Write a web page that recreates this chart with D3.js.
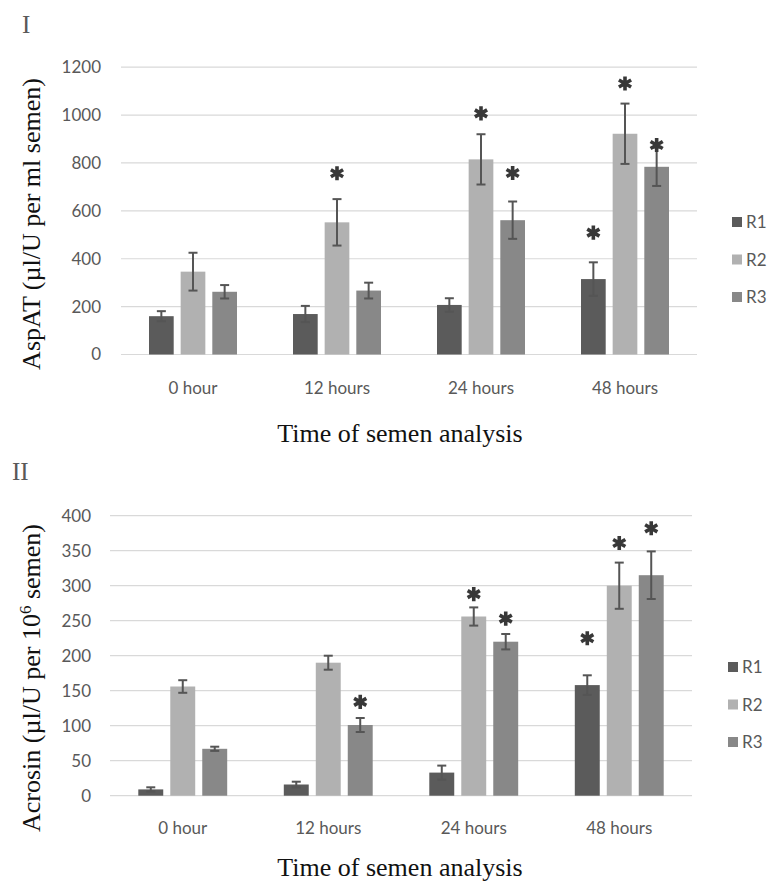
<!DOCTYPE html>
<html>
<head>
<meta charset="utf-8">
<script src="https://cdn.jsdelivr.net/npm/d3@7"></script>
<style>
  body { margin: 0; background: #fff; }
  svg { display: block; }
  .tick text { font-family: Lato, "Open Sans", sans-serif; fill: #595959; }
</style>
</head>
<body>
<div id="chart"></div>
<script>
// data
const times = ["0 hour", "12 hours", "24 hours", "48 hours"];
const groups = ["R1", "R2", "R3"];

// I: AspAT
const aspR1 = [160, 169, 207, 315];
const aspR2 = [346, 552, 815, 922];
const aspR3 = [262, 267, 561, 784];
const aspR1Err = [21, 34, 28, 70];
const aspR2Err = [79, 97, 105, 126];
const aspR3Err = [28, 33, 78, 80];
// height of the significance star (same units as the bars), null = no star
const aspR1Star = [null, null, null, 509];
const aspR2Star = [null, 757, 1007, 1132];
const aspR3Star = [null, null, 758, 875];
const aspTicks = [0, 200, 400, 600, 800, 1000, 1200];

// II: Acrosin
const acrR1 = [9, 16, 33, 158];
const acrR2 = [156, 190, 256, 300];
const acrR3 = [67, 101, 220, 315];
const acrR1Err = [3, 4, 10, 14];
const acrR2Err = [9, 10, 13, 33];
const acrR3Err = [3, 10, 11, 34];
const acrR1Star = [null, null, null, 225];
const acrR2Star = [null, null, 288, 361];
const acrR3Star = [null, 134, 253, 382];
const acrTicks = [0, 50, 100, 150, 200, 250, 300, 350, 400];

const WIDTH = 771;
const HEIGHT = 884;
const COLORS = {R1: "#5b5b5b", R2: "#b1b1b1", R3: "#888888"};

const svg = d3.select("#chart").append("svg")
  .attr("width", WIDTH)
  .attr("height", HEIGHT);

svg.append("rect").attr("width", WIDTH).attr("height", HEIGHT).attr("fill", "#fff");

function drawPanel(cfg) {
  const g = svg.append("g");

  const y = d3.scaleLinear()
    .domain([0, d3.max(cfg.ticks)])
    .range([cfg.bottom, cfg.top]);

  const x0 = d3.scaleBand()
    .domain(times)
    .range([cfg.left, cfg.right]);

  const x1 = d3.scaleBand()
    .domain(groups)
    .range([0, x0.bandwidth()])
    .paddingInner(0.22)
    .paddingOuter(0.885);

  // gridlines
  g.selectAll(".grid")
    .data(cfg.ticks)
    .enter()
    .append("line")
      .attr("x1", cfg.left)
      .attr("x2", cfg.right)
      .attr("y1", d => y(d))
      .attr("y2", d => y(d))
      .attr("stroke", "#d9d9d9")
      .attr("stroke-width", 1.2);

  // y tick labels
  const yAxis = g.append("g")
    .attr("transform", "translate(" + cfg.left + ",0)")
    .call(d3.axisLeft(y).tickValues(cfg.ticks).tickFormat(d3.format("d"))
      .tickSize(0).tickPadding(cfg.labelPad));
  yAxis.select(".domain").remove();
  yAxis.selectAll("text").attr("font-size", "17px");

  // x tick labels
  const xAxis = g.append("g")
    .attr("transform", "translate(0," + cfg.bottom + ")")
    .call(d3.axisBottom(x0).tickSize(0).tickPadding(cfg.xPad));
  xAxis.select(".domain").remove();
  xAxis.selectAll("text").attr("font-size", "17px");

  // bars, error bars, stars
  const rows = [];
  groups.forEach((s, si) => {
    times.forEach((t, ti) => {
      rows.push({
        group: s, time: t,
        value: cfg.values[si][ti],
        err: cfg.errors[si][ti],
        star: cfg.stars[si][ti]
      });
    });
  });

  const cell = g.selectAll(".cell")
    .data(rows)
    .enter()
    .append("g")
      .attr("transform", d => "translate(" + (x0(d.time) + x1(d.group)) + ",0)");

  cell.append("rect")
    .attr("x", 0)
    .attr("width", x1.bandwidth())
    .attr("y", d => y(d.value))
    .attr("height", d => y(0) - y(d.value))
    .attr("fill", d => COLORS[d.group]);

  const mid = x1.bandwidth() / 2;
  const cap = 4.5;
  const errColor = "#555555";

  cell.append("line")
    .attr("x1", mid).attr("x2", mid)
    .attr("y1", d => y(d.value + d.err))
    .attr("y2", d => y(d.value - d.err))
    .attr("stroke", errColor).attr("stroke-width", 2);
  cell.append("line")
    .attr("x1", mid - cap).attr("x2", mid + cap)
    .attr("y1", d => y(d.value + d.err))
    .attr("y2", d => y(d.value + d.err))
    .attr("stroke", errColor).attr("stroke-width", 2);
  cell.append("line")
    .attr("x1", mid - cap).attr("x2", mid + cap)
    .attr("y1", d => y(d.value - d.err))
    .attr("y2", d => y(d.value - d.err))
    .attr("stroke", errColor).attr("stroke-width", 2);

  cell.filter(d => d.star != null)
    .append("path")
      .attr("transform", d => "translate(" + mid + "," + y(d.star) + ")")
      .attr("d", d3.symbol(d3.symbolAsterisk, 140))
      .attr("fill", "none")
      .attr("stroke", "#383838")
      .attr("stroke-width", 3.6);

  // legend
  const leg = g.selectAll(".leg")
    .data(groups)
    .enter()
    .append("g")
      .attr("transform", (d, i) => "translate(" + cfg.legX + "," + (cfg.legY + i * 37.5) + ")");
  leg.append("rect")
    .attr("x", 0).attr("y", -5)
    .attr("width", 10).attr("height", 10)
    .attr("fill", d => COLORS[d]);
  leg.append("text")
    .attr("x", 14)
    .attr("y", 0)
    .attr("dy", "0.36em")
    .attr("font-family", "Lato, sans-serif")
    .attr("font-size", "17px")
    .attr("fill", "#595959")
    .text(d => d);

  // panel label
  g.append("text")
    .attr("x", cfg.tagX)
    .attr("y", cfg.tagY)
    .attr("font-family", "Liberation Serif, serif")
    .attr("font-size", "25px")
    .attr("fill", "#595959")
    .text(cfg.tag);

  // x title
  g.append("text")
    .attr("x", 400)
    .attr("y", cfg.xTitleY)
    .attr("text-anchor", "middle")
    .attr("font-family", "Liberation Serif, serif")
    .attr("font-size", "26px")
    .attr("fill", "#111")
    .text("Time of semen analysis");

  // y title
  const yt = g.append("text")
    .attr("transform", "translate(" + cfg.yTitleX + "," + cfg.yTitleY + ") rotate(-90)")
    .attr("text-anchor", "middle")
    .attr("dy", "0.35em")
    .attr("font-family", "Liberation Serif, serif")
    .attr("font-size", "26px")
    .attr("fill", "#111");
  cfg.yTitle(yt);
}

drawPanel({
  tag: "I", tagX: 22, tagY: 33,
  values: [aspR1, aspR2, aspR3],
  errors: [aspR1Err, aspR2Err, aspR3Err],
  stars: [aspR1Star, aspR2Star, aspR3Star],
  ticks: aspTicks,
  left: 121, right: 697, top: 67.2, bottom: 354.5,
  labelPad: 20, xPad: 27,
  legX: 732, legY: 222,
  xTitleY: 442,
  yTitleX: 31, yTitleY: 224,
  yTitle: t => t.text("AspAT (\u00b5l/U per ml semen)")
});

drawPanel({
  tag: "II", tagX: 12, tagY: 480,
  values: [acrR1, acrR2, acrR3],
  errors: [acrR1Err, acrR2Err, acrR3Err],
  stars: [acrR1Star, acrR2Star, acrR3Star],
  ticks: acrTicks,
  left: 110, right: 692, top: 515.7, bottom: 795.7,
  labelPad: 19, xPad: 26,
  legX: 728, legY: 667,
  xTitleY: 876,
  yTitleX: 31, yTitleY: 678,
  yTitle: t => {
    t.append("tspan").text("Acrosin (\u00b5l/U per 10");
    t.append("tspan").attr("baseline-shift", "super").attr("font-size", "17px").text("6");
    t.append("tspan").text(" semen)");
  }
});
</script>
</body>
</html>
